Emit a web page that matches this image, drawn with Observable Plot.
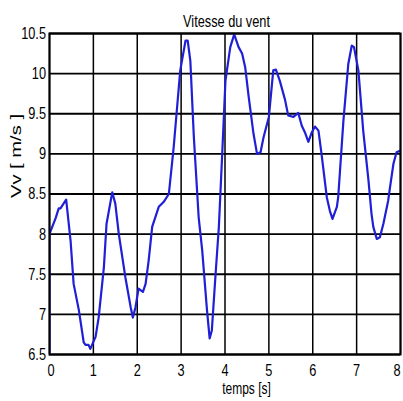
<!DOCTYPE html>
<html>
<head>
<meta charset="utf-8">
<script src="https://cdn.jsdelivr.net/npm/d3@7"></script>
<script src="https://cdn.jsdelivr.net/npm/@observablehq/plot@0.6"></script>
<style>
  html, body { margin: 0; padding: 0; background: #fff; }
  #chart svg { display: block; }
</style>
</head>
<body>
<div id="chart"></div>
<script>
const titleText = "Vitesse du vent";
const xLabel = "temps [s]";
const yLabel = "Vv [ m/s ]";
const xTicks = [0, 1, 2, 3, 4, 5, 6, 7, 8];
const yTicks = [6.5, 7, 7.5, 8, 8.5, 9, 9.5, 10, 10.5];

const time = [0, 0, 0.02, 0.14, 0.21, 0.25, 0.38, 0.48, 0.55, 0.67, 0.78, 0.82, 0.89, 0.93, 1.05, 1.12, 1.24, 1.30, 1.43, 1.50, 1.58, 1.73, 1.85, 1.90, 1.96, 2.03, 2.13, 2.19, 2.26, 2.34, 2.49, 2.60, 2.72, 2.83, 2.98, 3.10, 3.15, 3.21, 3.29, 3.40, 3.48, 3.59, 3.65, 3.70, 3.78, 3.86, 3.93, 4.01, 4.12, 4.21, 4.31, 4.39, 4.46, 4.54, 4.65, 4.73, 4.81, 4.88, 5.00, 5.10, 5.16, 5.25, 5.37, 5.44, 5.56, 5.67, 5.75, 5.82, 5.90, 5.98, 6.05, 6.13, 6.20, 6.32, 6.39, 6.45, 6.55, 6.58, 6.70, 6.81, 6.89, 6.94, 7.04, 7.15, 7.27, 7.34, 7.38, 7.46, 7.53, 7.61, 7.72, 7.76, 7.84, 7.91, 7.99];
const speed = [6.5, 8.0, 8.03, 8.2, 8.32, 8.32, 8.43, 7.92, 7.38, 7.05, 6.65, 6.62, 6.62, 6.57, 6.72, 6.96, 7.59, 8.13, 8.52, 8.38, 8.0, 7.46, 7.09, 6.96, 7.09, 7.32, 7.28, 7.38, 7.67, 8.09, 8.34, 8.40, 8.50, 9.08, 10.04, 10.41, 10.41, 10.16, 9.21, 8.21, 7.80, 7.05, 6.70, 6.80, 7.46, 8.09, 8.92, 9.91, 10.33, 10.49, 10.33, 10.25, 10.08, 9.71, 9.25, 9.0, 9.02, 9.21, 9.46, 10.04, 10.05, 9.91, 9.67, 9.48, 9.46, 9.51, 9.35, 9.27, 9.15, 9.27, 9.34, 9.29, 9.0, 8.46, 8.29, 8.19, 8.34, 8.46, 9.42, 10.12, 10.35, 10.33, 10.04, 9.29, 8.67, 8.25, 8.09, 7.94, 7.96, 8.13, 8.42, 8.58, 8.88, 9.02, 9.04];

const data = time.map((t, i) => ({t, v: speed[i]}));
const font = "'Liberation Sans', Arial, sans-serif";

const chart = Plot.plot({
  width: 403,
  height: 401,
  marginLeft: 49,
  marginRight: 3,
  marginTop: 33,
  marginBottom: 47,
  style: {fontFamily: font, fontSize: "17px", color: "#000", background: "#fff"},
  x: {domain: [0, 8]},
  y: {domain: [6.5, 10.5]},
  marks: [
    Plot.gridX(xTicks, {stroke: "#000", strokeOpacity: 1, strokeWidth: 1.5}),
    Plot.gridY(yTicks, {stroke: "#000", strokeOpacity: 1, strokeWidth: 1.8}),
    Plot.line(data, {x: "t", y: "v", stroke: "#1f1fd6", strokeWidth: 2.2, clip: true}),
    Plot.frame({stroke: "#000", strokeWidth: 2}),
    Plot.axisX(xTicks.slice(0, 1), {tickSize: 0, tickPadding: 9, label: null, fontSize: 17, dx: 1.5}),
    Plot.axisX(xTicks.slice(1, -1), {tickSize: 0, tickPadding: 9, label: null, fontSize: 17}),
    Plot.axisX(xTicks.slice(-1), {tickSize: 0, tickPadding: 9, label: null, fontSize: 17, textAnchor: "end", dx: 0}),
    Plot.axisY(yTicks, {tickSize: 0, tickPadding: 3.5, label: null, fontSize: 17, tickFormat: d => String(d)}),
    Plot.text([titleText], {frameAnchor: "top", lineAnchor: "middle", dx: 1.5, dy: -12, fontSize: 17, fill: "#000"}),
    Plot.text([xLabel], {frameAnchor: "bottom", lineAnchor: "middle", dx: 21.5, dy: 34.5, fontSize: 16, fill: "#000"}),
    Plot.text([yLabel], {frameAnchor: "left", lineAnchor: "middle", rotate: -90, dx: -33, dy: 4, fontSize: 15, fill: "#000"})
  ]
});
document.getElementById("chart").append(chart);

// The reference text is horizontally condensed: compress horizontal texts to 75% width,
// and stretch the rotated y label along its length.
chart.querySelectorAll("text").forEach(el => {
  const tr = el.getAttribute("transform") || "";
  const len = el.getComputedTextLength();
  if (!(len > 0)) return;
  const target = tr.includes("rotate") ? 84 : len * 0.75;
  el.setAttribute("textLength", target.toFixed(2));
  el.setAttribute("lengthAdjust", "spacingAndGlyphs");
});
</script>
</body>
</html>
